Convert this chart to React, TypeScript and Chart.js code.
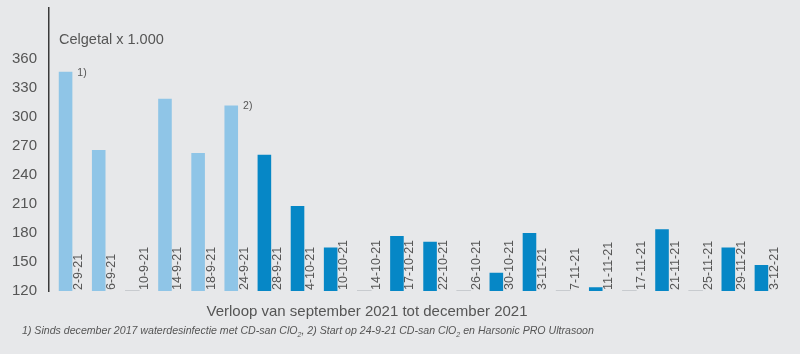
import React, { useEffect, useRef } from 'react';
import { Chart, registerables } from 'chart.js';

Chart.register(...registerables);

const categories = [
  '2-9-21', '6-9-21', '10-9-21', '14-9-21', '18-9-21', '24-9-21', '28-9-21',
  '4-10-21', '10-10-21', '14-10-21', '17-10-21', '22-10-21', '26-10-21', '30-10-21',
  '3-11-21', '7-11-21', '11-11-21', '17-11-21', '21-11-21', '25-11-21', '29-11-21', '3-12-21',
];
const values = [347, 266, 120, 319, 263, 312, 261, 208, 165, 120, 177, 171, 120, 139, 180, 120, 124, 120, 184, 120, 165, 147];
// true = period before Harsonic (light blue)
const beforeHarsonic = [true, true, true, true, true, true, false, false, false, false, false, false, false, false, false, false, false, false, false, false, false, false];
const yTicks = [120, 150, 180, 210, 240, 270, 300, 330, 360];
const notes = [
  { index: 0, text: '1)' },
  { index: 5, text: '2)' },
];

const LIGHT = '#8fc5e7';
const DARK = '#0687c6';
const TEXT = '#555555';
const FONT = '"Liberation Sans", Arial, sans-serif';

const labelPlugin = {
  id: 'barLabels',
  afterDatasetsDraw(chart: any) {
    const ctx = chart.ctx;
    const meta = chart.getDatasetMeta(0);
    const yScale = chart.scales.y;
    const bottom = chart.chartArea.bottom;
    ctx.save();
    meta.data.forEach((bar: any, i: number) => {
      const { x, width } = bar.getProps(['x', 'width'], true);
      // faint baseline for empty bars
      if (values[i] <= yScale.min) {
        ctx.strokeStyle = '#c8cbcf';
        ctx.lineWidth = 1;
        ctx.beginPath();
        ctx.moveTo(x - width / 2, bottom - 0.5);
        ctx.lineTo(x + width / 2 + 1, bottom - 0.5);
        ctx.stroke();
      }
      // rotated category label
      ctx.save();
      ctx.translate(x + 16.5, bottom - 1);
      ctx.rotate(-Math.PI / 2);
      ctx.fillStyle = TEXT;
      ctx.font = `12.5px ${FONT}`;
      ctx.textAlign = 'left';
      ctx.textBaseline = 'alphabetic';
      ctx.fillText(categories[i], 0, 0);
      ctx.restore();
    });
    notes.forEach((n) => {
      const bar: any = meta.data[n.index];
      const { x, y, width } = bar.getProps(['x', 'y', 'width'], true);
      ctx.fillStyle = TEXT;
      ctx.font = `10.5px ${FONT}`;
      ctx.textAlign = 'left';
      ctx.textBaseline = 'middle';
      ctx.fillText(n.text, x + width / 2 + 5, y + 1);
    });
    ctx.restore();
  },
};

export default function App() {
  const ref = useRef<HTMLCanvasElement | null>(null);

  useEffect(() => {
    document.body.style.margin = '0';
    if (!ref.current) return;
    const chart = new Chart(ref.current, {
      type: 'bar',
      data: {
        labels: categories,
        datasets: [
          {
            data: values,
            backgroundColor: beforeHarsonic.map((b) => (b ? LIGHT : DARK)),
            barPercentage: 0.41,
            categoryPercentage: 1,
            borderWidth: 0,
          },
        ],
      },
      options: {
        animation: false,
        responsive: false,
        maintainAspectRatio: false,
        layout: { padding: { top: 8, bottom: 63, right: 22, left: 0 } },
        plugins: {
          legend: { display: false },
          tooltip: { enabled: false },
        },
        scales: {
          x: { display: false },
          y: {
            min: 120,
            max: 413,
            afterBuildTicks: (axis: any) => {
              axis.ticks = yTicks.map((v) => ({ value: v }));
            },
            afterFit: (axis: any) => {
              axis.width = 49;
              axis.paddingTop = 0;
              axis.paddingBottom = 0;
            },
            grid: { display: false, drawTicks: false },
            border: { display: true, color: '#3a3a3a', width: 1.5 },
            ticks: {
              padding: 12,
              color: TEXT,
              font: { size: 15, family: FONT },
            },
          },
        },
      },
      plugins: [labelPlugin],
    });
    return () => chart.destroy();
  }, []);

  return (
    <div style={{ position: 'relative', width: 800, height: 354, background: '#e7e8ea', overflow: 'hidden' }}>
      <canvas ref={ref} width={800} height={354} style={{ position: 'absolute', left: 0, top: 0 }} />
      <div style={{ position: 'absolute', left: 59, top: 31, font: `14.5px ${FONT}`, color: TEXT, whiteSpace: 'nowrap' }}>
        Celgetal x 1.000
      </div>
      <div style={{ position: 'absolute', left: 0, width: 734, top: 302, textAlign: 'center', font: `15px ${FONT}`, color: TEXT, whiteSpace: 'nowrap' }}>
        Verloop van september 2021 tot december 2021
      </div>
      <div style={{ position: 'absolute', left: 22, top: 324, font: `italic 10.6px ${FONT}`, color: TEXT, whiteSpace: 'nowrap' }}>
        1) Sinds december 2017 waterdesinfectie met CD-san ClO<sub style={{ fontSize: 7 }}>2</sub>, 2) Start op 24-9-21 CD-san ClO<sub style={{ fontSize: 7 }}>2</sub> en Harsonic PRO Ultrasoon
      </div>
    </div>
  );
}
